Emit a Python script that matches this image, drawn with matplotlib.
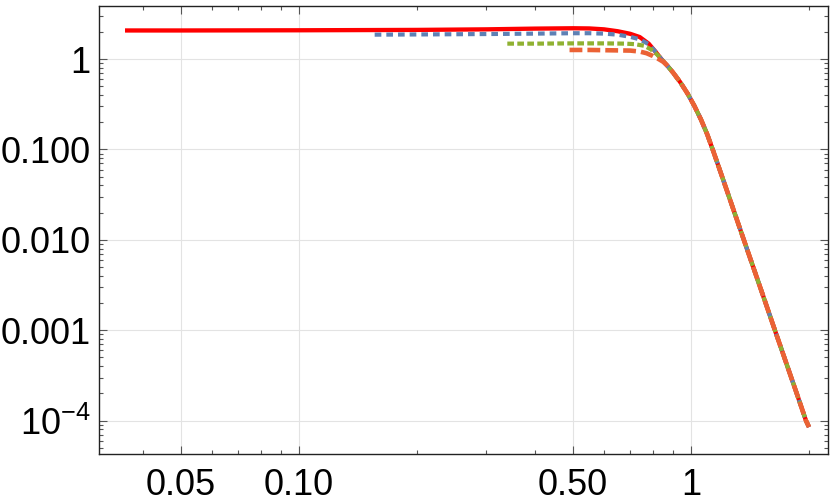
import matplotlib
matplotlib.use("Agg")
import matplotlib.pyplot as plt
from matplotlib.ticker import FixedLocator, FixedFormatter, NullFormatter

plt.rcParams['font.family'] = ['Liberation Sans', 'DejaVu Sans']
plt.rcParams['mathtext.fontset'] = 'custom'
plt.rcParams['mathtext.rm'] = 'Liberation Sans'
plt.rcParams['mathtext.it'] = 'Liberation Sans:italic'

# ---- data ----
tail_x = [0.87, 0.90, 0.94, 0.98, 1.02, 1.06, 1.10, 1.14, 1.19, 1.233, 1.30,
          1.365, 1.45, 1.55, 1.632, 1.75, 1.87, 1.965, 2.0]
tail_y = [0.845, 0.708, 0.550, 0.415, 0.303, 0.215, 0.147, 0.0955, 0.0558,
          0.0357, 0.0183, 0.0099, 0.00463, 0.0020, 0.00104, 0.000433,
          0.000188, 0.0001, 8.5e-5]

red_x = [0.036, 0.05, 0.1, 0.2, 0.3, 0.4, 0.5, 0.55, 0.6, 0.65, 0.70, 0.74,
         0.78, 0.81, 0.84]
red_y = [2.07, 2.07, 2.08, 2.10, 2.13, 2.17, 2.19, 2.18, 2.13, 2.03, 1.90,
         1.75, 1.48, 1.22, 1.00]

blue_x = [0.156, 0.2, 0.3, 0.4, 0.5, 0.55, 0.6, 0.65, 0.70, 0.74, 0.78,
          0.81, 0.84]
blue_y = [1.86, 1.87, 1.89, 1.91, 1.93, 1.93, 1.91, 1.86, 1.76, 1.65, 1.46,
          1.22, 1.00]

green_x = [0.34, 0.4, 0.5, 0.6, 0.68, 0.72, 0.76, 0.79, 0.82, 0.845]
green_y = [1.48, 1.48, 1.49, 1.49, 1.48, 1.46, 1.40, 1.28, 1.12, 0.97]

orange_x = [0.49, 0.55, 0.62, 0.70, 0.74, 0.77, 0.80, 0.83, 0.85]
orange_y = [1.26, 1.26, 1.25, 1.24, 1.21, 1.16, 1.08, 0.99, 0.93]

x_major = [0.05, 0.1, 0.5, 1]
x_major_labels = ['0.05', '0.10', '0.50', '1']
y_major = [1e-4, 1e-3, 1e-2, 1e-1, 1]
y_major_labels = [r'$10^{-4}$', '0.001', '0.010', '0.100', '1']

# ---- figure ----
fig = plt.figure(figsize=(8.30, 5.03), dpi=100)
ax = fig.add_axes([99/830, 1-454/503, (828-99)/830, (454-6)/503])
ax.set_xscale('log')
ax.set_yscale('log')
ax.set_xlim(0.0309, 2.236)
ax.set_ylim(4.28e-5, 3.86)

ax.plot(red_x + tail_x, red_y + tail_y, color='#FF0000', lw=3.1,
        solid_capstyle='butt', zorder=3)
ax.plot(blue_x + tail_x, blue_y + tail_y, color='#5E81B5', lw=3.0,
        dashes=(1.6, 1.2), zorder=4)
ax.plot(green_x + tail_x, green_y + tail_y, color='#8FB131', lw=3.0,
        dashes=(1.6, 0.8), zorder=5)
ax.plot(orange_x + tail_x, orange_y + tail_y, color='#EB6235', lw=3.3,
        dashes=(2.8, 1.1), zorder=6)

ax.xaxis.set_major_locator(FixedLocator(x_major))
ax.xaxis.set_major_formatter(FixedFormatter(x_major_labels))
xminor = [0.04, 0.06, 0.07, 0.08, 0.09, 0.2, 0.3, 0.4, 0.6, 0.7, 0.8, 0.9, 2]
ax.xaxis.set_minor_locator(FixedLocator(xminor))
ax.xaxis.set_minor_formatter(NullFormatter())

ax.yaxis.set_major_locator(FixedLocator(y_major))
ax.yaxis.set_major_formatter(FixedFormatter(y_major_labels))
yminor = [m * 10.0**e for e in range(-5, 1) for m in range(2, 10)]
ax.yaxis.set_minor_locator(FixedLocator(yminor))
ax.yaxis.set_minor_formatter(NullFormatter())

ax.grid(True, which='major', color='#E3E3E3', lw=0.8, zorder=0)
ax.tick_params(which='both', direction='in', top=True, right=True,
               color='#555555', width=0.8)
ax.tick_params(which='major', length=5.5, labelsize=26, pad=6)
ax.tick_params(which='minor', length=3)
ax.tick_params(axis='x', which='major', pad=10)
for s in ax.spines.values():
    s.set_linewidth(1.0)
    s.set_color('#222222')

fig.savefig('out.png', dpi=100)
